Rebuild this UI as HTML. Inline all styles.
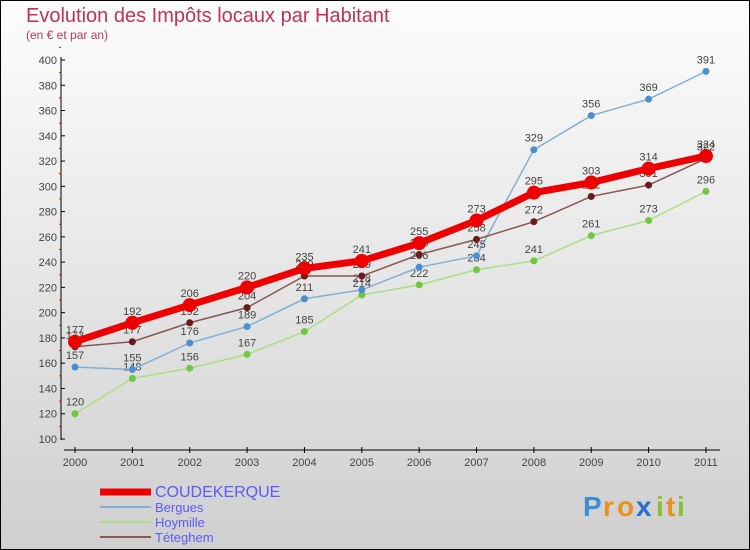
<!DOCTYPE html>
<html><head><meta charset="utf-8"><style>
body{margin:0;width:750px;height:550px;overflow:hidden;font-family:"Liberation Sans",sans-serif}
svg{display:block}
</style></head><body>
<svg width="750" height="550" id="chart">
<defs><linearGradient id="bg" x1="0" y1="0" x2="0" y2="1"><stop offset="0" stop-color="#fdfdfd"/><stop offset="1" stop-color="#cfcfcf"/></linearGradient></defs>
<rect x="0.5" y="0.5" width="749" height="549" fill="url(#bg)" stroke="#000"/>
<text x="26" y="22" font-size="20" fill="#c0305a">Evolution des Impôts locaux par Habitant</text>
<text x="26" y="39" font-size="12" fill="#c0305a">(en € et par an)</text>
<g id="axes"></g>
<g id="series"></g>
<g id="legend"></g>
<g font-size="28" font-weight="bold">
<text x="583" y="516" fill="#3a8fd8">P</text><text x="603" y="516" fill="#e89020">r</text><text x="617" y="516" fill="#e89020">o</text><text x="636" y="516" fill="#2a6fd0">x</text><text x="656" y="516" fill="#8ac030">i</text><text x="666" y="516" fill="#e89020">t</text><text x="677" y="516" fill="#8ac030">i</text>
</g>
</svg>
<script>
const years=["2000","2001","2002","2003","2004","2005","2006","2007","2008","2009","2010","2011"];
const yTicks=[100,120,140,160,180,200,220,240,260,280,300,320,340,360,380,400];
const coudekerque=[177,192,206,220,235,241,255,273,295,303,314,324];
const bergues=[157,155,176,189,211,218,236,245,329,356,369,391];
const hoymille=[120,148,156,167,185,214,222,234,241,261,273,296];
const teteghem=[173,177,192,204,229,229,246,258,272,292,301,322];
const NS="http://www.w3.org/2000/svg";
function X(i){return 75+i*57.36;}
function Y(v){return 439-(v-100)*379/300;}
function mk(t,a,p){const e=document.createElementNS(NS,t);for(const k in a)e.setAttribute(k,a[k]);p.appendChild(e);return e;}
const ax=document.getElementById('axes');
let l=mk('line',{x1:61,y1:57,x2:61,y2:440,stroke:'#000'},ax);


yTicks.forEach(v=>{
 mk('line',{x1:61,y1:Y(v),x2:65,y2:Y(v),stroke:'#000'},ax);
 mk('line',{x1:59,y1:Y(v+10),x2:61,y2:Y(v+10),stroke:'#e00'},ax);
 const t=mk('text',{x:57,y:Y(v)+4,'text-anchor':'end','font-size':11,fill:'#444'},ax);t.textContent=v;
 
 
});
l=mk('line',{x1:64,y1:450,x2:720,y2:450,stroke:'#000'},ax);


years.forEach((y,i)=>{
 mk('line',{x1:X(i),y1:447,x2:X(i),y2:453,stroke:'#000'},ax);
 const t=mk('text',{x:X(i),y:466,'text-anchor':'middle','font-size':11,fill:'#444'},ax);t.textContent=y;
 
 
});
const ser=[
 {n:'Hoymille',d:hoymille,c:'#a8e080',p:'#70c840',w:1.5,r:3.5},
 {n:'Bergues',d:bergues,c:'#80b0d8',p:'#4a90d0',w:1.5,r:3.5},
 {n:'Téteghem',d:teteghem,c:'#8a5555',p:'#6a1a1a',w:1.5,r:3.5},
 {n:'COUDEKERQUE',d:coudekerque,c:'#ee0000',p:'#ee0000',w:7,r:7}
];
const sg=document.getElementById('series');
ser.forEach(s=>{
 const g=mk('g',{},sg);
 
 
 mk('polyline',{points:s.d.map((v,i)=>X(i)+','+Y(v)).join(' '),fill:'none',stroke:s.c,'stroke-width':s.w},g);
 s.d.forEach((v,i)=>{
  const c=mk('circle',{cx:X(i),cy:Y(v),r:s.r,fill:s.p},g);
  
  
  const t=mk('text',{x:X(i),y:Y(v)-8,'text-anchor':'middle','font-size':11,fill:'#444'},g);t.textContent=v;
  
  
 });
});
const lg=document.getElementById('legend');
const leg=[['COUDEKERQUE','#ee0000',7,16],['Bergues','#80b0d8',2,13],['Hoymille','#a8e080',2,13],['Téteghem','#8a5555',2,13]];
leg.forEach((e,i)=>{
 const y=492+i*15;
 const g=mk('g',{},lg);
 
 
 mk('line',{x1:100,y1:y,x2:151,y2:y,stroke:e[1],'stroke-width':e[2]},g);
 const t=mk('text',{x:155,y:y+5,'font-size':e[3],fill:'#5a5aff'},g);t.textContent=e[0];
});
</script>
</body></html>
